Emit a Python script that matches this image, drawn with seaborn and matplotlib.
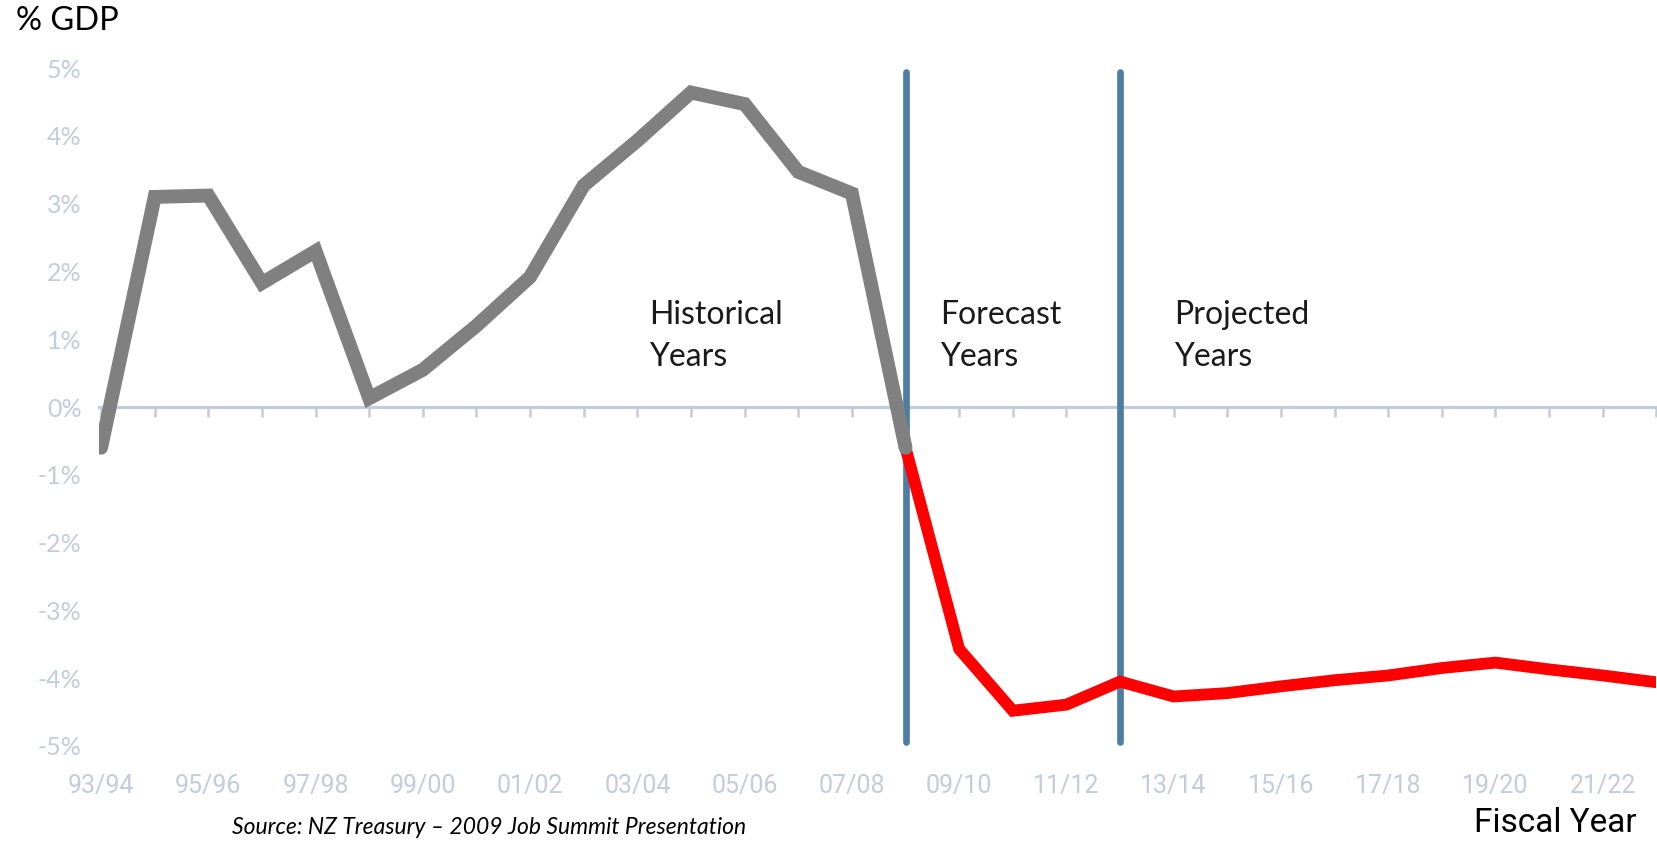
import numpy as np
import pandas as pd
import seaborn as sns
import matplotlib.pyplot as plt

# NZ operating balance, % of GDP, by fiscal year
years = ["93/94", "94/95", "95/96", "96/97", "97/98", "98/99", "99/00", "00/01",
         "01/02", "02/03", "03/04", "04/05", "05/06", "06/07", "07/08", "08/09",
         "09/10", "10/11", "11/12", "12/13", "13/14", "14/15", "15/16", "16/17",
         "17/18", "18/19", "19/20", "20/21", "21/22", "22/23"]
balance = [-0.6, 3.1, 3.12, 1.83, 2.3, 0.13, 0.55, 1.2, 1.92, 3.27, 3.93, 4.64,
           4.47, 3.47, 3.15, -0.6, -3.57, -4.48, -4.39, -4.05, -4.27, -4.22,
           -4.12, -4.03, -3.96, -3.85, -3.77, -3.87, -3.96, -4.06]
forecast_start = "08/09"
projection_start = "12/13"
y_ticks = [5, 4, 3, 2, 1, 0, -1, -2, -3, -4, -5]

AXIS_COL = "#c2ccdb"
GREY = "#808080"
RED = "#ff0000"
BLUE = "#4d7da0"
NARROW = ["Liberation Sans Narrow", "Roboto"]

df = pd.DataFrame({"year": years, "balance": balance})
df["idx"] = np.arange(len(df))
split = years.index(forecast_start)
proj = years.index(projection_start)

sns.set_theme(style="white")
plt.rcParams["font.family"] = ["Lato", "DejaVu Sans"]

fig = plt.figure(figsize=(16.58, 8.41), dpi=100)
ax = fig.add_axes([0.06, 0.113, 0.939, 0.806])

sns.lineplot(data=df[df["idx"] >= split], x="idx", y="balance", ax=ax,
             color=RED, linewidth=8.5, solid_capstyle="round", solid_joinstyle="miter")
sns.lineplot(data=df[df["idx"] <= split], x="idx", y="balance", ax=ax,
             color=GREY, linewidth=10, solid_capstyle="round", solid_joinstyle="miter")

for pos in (split, proj):
    ax.axvline(pos, ymin=0.006, ymax=0.994, color=BLUE, linewidth=4.8,
               solid_capstyle="round", zorder=1)

ax.set_xlim(-0.03, 29.0)
ax.set_ylim(-5, 5)

# zero axis with a tick mark for each year
for s in ("top", "right", "left"):
    ax.spines[s].set_visible(False)
ax.spines["bottom"].set_position(("data", 0))
ax.spines["bottom"].set_color(AXIS_COL)
ax.spines["bottom"].set_linewidth(2.3)
ax.spines["bottom"].set_zorder(0.5)
ax.set_xticks(df["idx"])
ax.tick_params(axis="x", bottom=True, direction="out", length=7, width=1.8,
               color=AXIS_COL, labelbottom=False)

ax.set_yticks(y_ticks, labels=[f"{v}%" for v in y_ticks])
ax.tick_params(axis="y", left=False, length=0, pad=13, labelsize=18, labelcolor=AXIS_COL)
ax.set_xlabel("")
ax.set_ylabel("")

sec = ax.secondary_xaxis("bottom")
sec.set_xticks(df["idx"][::2], labels=years[::2])
sec.spines["bottom"].set_visible(False)
sec.tick_params(length=0, pad=20, labelsize=18, labelcolor=AXIS_COL)
for lab in sec.get_xticklabels():
    lab.set_family(NARROW)

txt = dict(fontsize=23, color="#1a1a1a", va="center", ha="left", linespacing=1.5)
ax.text(10.22, 1.05, "Historical\nYears", **txt)
ax.text(15.65, 1.05, "Forecast\nYears", **txt)
ax.text(20.0, 1.05, "Projected\nYears", **txt)

fig.text(0.0095, 0.975, "% GDP", fontsize=23.5, color="black", va="center", ha="left")
fig.text(0.987, 0.021, "Fiscal Year", fontsize=24, color="black", va="center", ha="right",
         family=NARROW)
fig.text(0.14, 0.003, "Source: NZ Treasury \u2013 2009 Job Summit Presentation",
         fontsize=16.5, style="italic", color="black", va="bottom", ha="left")

fig.savefig("out.png", dpi=100)
